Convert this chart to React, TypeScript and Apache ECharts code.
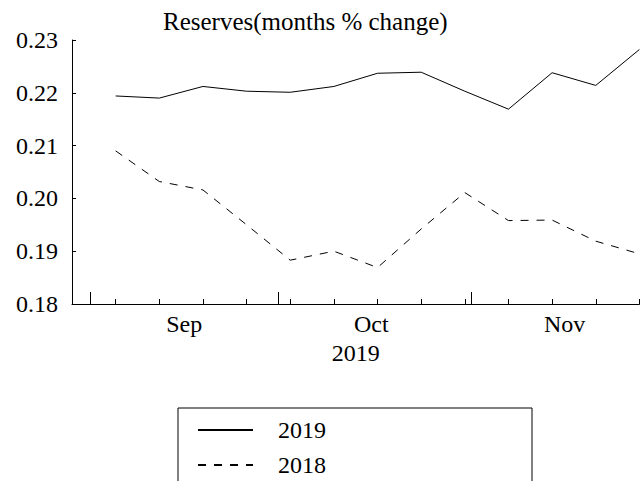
import React, { useEffect, useRef } from "react";
import * as echarts from "echarts";

const originDate = "2019-08-29";
const weekDates = [
  "2019-09-05", "2019-09-12", "2019-09-19", "2019-09-26",
  "2019-10-03", "2019-10-10", "2019-10-17", "2019-10-24", "2019-10-31",
  "2019-11-07", "2019-11-14", "2019-11-21", "2019-11-28",
];
const values2019 = [0.2194, 0.2190, 0.2212, 0.2203, 0.2201, 0.2212, 0.2237, 0.2239, 0.2203, 0.2169, 0.2238, 0.2214, 0.2282];
const values2018 = [0.2090, 0.2032, 0.2016, 0.1950, 0.1883, 0.1900, 0.1869, 0.1942, 0.2011, 0.1958, 0.1959, 0.1919, 0.1895];
const monthStarts = ["2019-09-01", "2019-10-01", "2019-11-01"];
const monthLabelDates = ["2019-09-16", "2019-10-16", "2019-11-16"];
const monthNames = ["Sep", "Oct", "Nov"];
const yTicks = [0.18, 0.19, 0.2, 0.21, 0.22, 0.23];

const FONT = "Liberation Serif";
const TXT = { fontFamily: FONT, fontSize: 24, fontWeight: "normal", fontStyle: "normal", color: "#000" };

const dayOf = (d: string) => (Date.parse(d) - Date.parse(originDate)) / 86400000;

export default function App() {
  const ref = useRef<HTMLDivElement>(null);
  useEffect(() => {
    if (!ref.current) return;
    const chart = echarts.init(ref.current, undefined, { renderer: "svg" });
    const xDays = weekDates.map(dayOf);
    const xMax = xDays[xDays.length - 1];
    const weekTicks = [0, ...xDays];
    const monthTickDays = monthStarts.map(dayOf);
    const labelDays = monthLabelDates.map(dayOf);
    chart.setOption({
      animation: false,
      backgroundColor: "#ffffff",
      textStyle: { fontFamily: FONT, fontWeight: "normal", color: "#000" },
      title: {
        text: "Reserves(months % change)",
        left: 158,
        top: 4,
        textStyle: { ...TXT, fontSize: 25 },
      },
      grid: { left: 72, right: 1.6, top: 40, bottom: 177 },
      xAxis: [
        {
          type: "value",
          min: 0,
          max: xMax,
          axisLine: { show: true, lineStyle: { color: "#000", width: 1 } },
          axisTick: { show: true, inside: true, length: 5, customValues: weekTicks, lineStyle: { color: "#000" } },
          axisLabel: { show: false },
          splitLine: { show: false },
          name: "2019",
          nameLocation: "middle",
          nameGap: 37,
          nameTextStyle: { ...TXT },
        },
        {
          type: "value",
          min: 0,
          max: xMax,
          position: "bottom",
          axisLine: { show: false },
          axisTick: { show: true, inside: true, length: 12, customValues: monthTickDays, lineStyle: { color: "#000" } },
          axisLabel: {
            show: true,
            customValues: labelDays,
            margin: 8,
            ...TXT,
            formatter: (v: number) => {
              const i = labelDays.indexOf(v);
              return i >= 0 ? monthNames[i] : "";
            },
          },
          splitLine: { show: false },
        },
      ],
      yAxis: {
        type: "value",
        min: yTicks[0],
        max: yTicks[yTicks.length - 1],
        interval: 0.01,
        axisLine: { show: true, lineStyle: { color: "#000", width: 1 } },
        axisTick: { show: true, inside: true, length: 4, lineStyle: { color: "#000" } },
        axisLabel: {
          margin: 14,
          ...TXT,
          formatter: (v: number) => v.toFixed(2),
        },
        splitLine: { show: false },
      },
      legend: {
        orient: "vertical",
        left: 178,
        top: 408,
        height: 200,
        padding: [10, 206, 40, 19],
        borderColor: "#000",
        borderWidth: 1,
        itemWidth: 55,
        itemHeight: 14,
        itemGap: 11,
        itemStyle: { opacity: 0 },
        textStyle: { ...TXT, padding: [0, 0, 0, 20] },
        data: ["2019", "2018"],
      },
      series: [
        {
          name: "2019",
          type: "line",
          symbol: "none",
          data: xDays.map((d, i) => [d, values2019[i]]),
          lineStyle: { color: "#000", width: 1, type: "solid" },
          itemStyle: { color: "#000" },
        },
        {
          name: "2018",
          type: "line",
          symbol: "none",
          data: xDays.map((d, i) => [d, values2018[i]]),
          lineStyle: { color: "#000", width: 1, type: [8, 8] },
          itemStyle: { color: "#000" },
        },
      ],
    });
    return () => chart.dispose();
  }, []);
  return <div ref={ref} style={{ width: 641, height: 481, position: "absolute", left: 0, top: 0 }} />;
}
